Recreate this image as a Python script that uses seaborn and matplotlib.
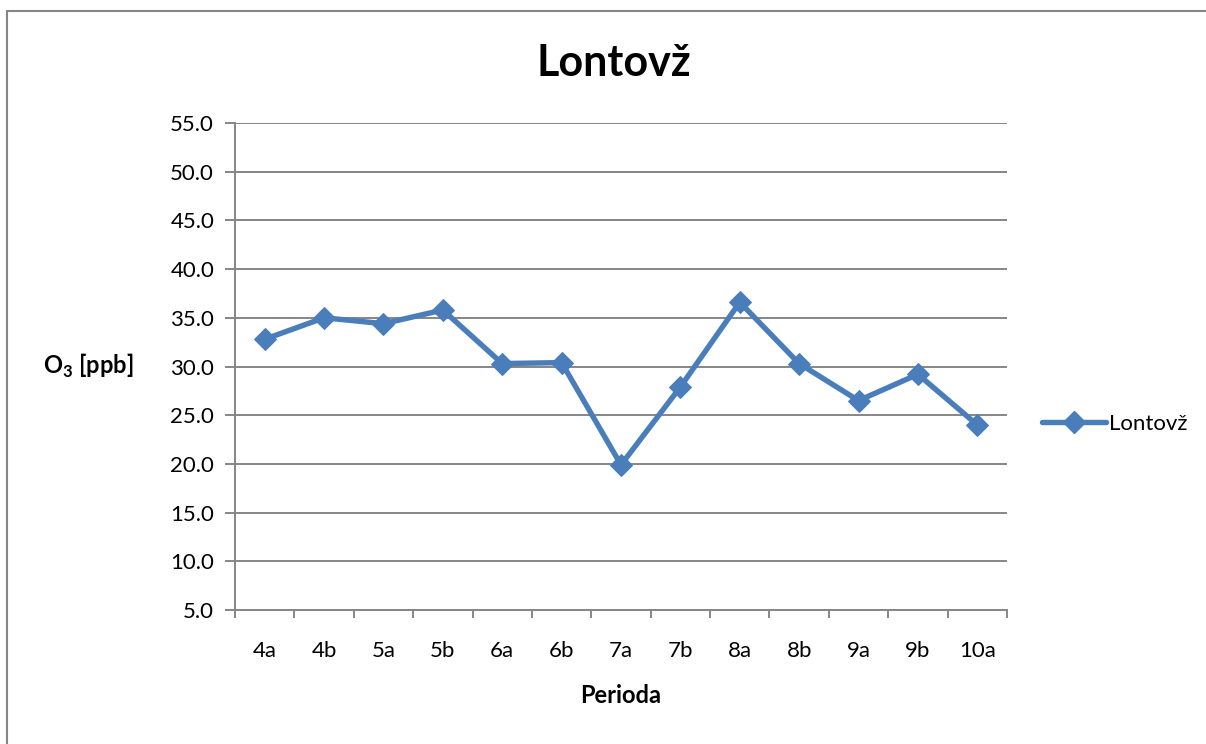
import matplotlib
matplotlib.use("Agg")
import matplotlib.pyplot as plt
import seaborn as sns
import pandas as pd
from matplotlib.lines import Line2D

# Ozone by sampling period at the Lontovž site
periods = ["4a", "4b", "5a", "5b", "6a", "6b", "7a", "7b", "8a", "8b", "9a", "9b", "10a"]
ozone_ppb = [32.8, 35.0, 34.4, 35.8, 30.3, 30.4, 19.9, 27.9, 36.6, 30.3, 26.5, 29.2, 24.0]
y_ticks = [5.0, 10.0, 15.0, 20.0, 25.0, 30.0, 35.0, 40.0, 45.0, 50.0, 55.0]
series_name = "Lontovž"

df = pd.DataFrame({"Perioda": periods, "O3": ozone_ppb})

sns.set_theme(style="white")
plt.rcParams["font.family"] = ["Lato", "DejaVu Sans"]
plt.rcParams["mathtext.fontset"] = "custom"
plt.rcParams["mathtext.rm"] = "Lato"
plt.rcParams["mathtext.bf"] = "Lato:bold"
plt.rcParams["text.color"] = "black"

line_color = "#4A7EBB"
grid_color = "#868686"
lw = 3.9
ms = 11

fig = plt.figure(figsize=(12.06, 7.44), dpi=100)
ax = fig.add_axes([235 / 1206, 1 - 610 / 744, (1007 - 235) / 1206, (610 - 123) / 744])

sns.lineplot(data=df, x="Perioda", y="O3", ax=ax, color=line_color, linewidth=lw,
             marker="D", markersize=ms, markeredgecolor=line_color, sort=False)

ax.set_xlim(-0.5, len(periods) - 0.5)
ax.set_ylim(y_ticks[0], y_ticks[-1])
ax.set_yticks(y_ticks)
ax.set_yticklabels([f"{v:.1f}" for v in y_ticks], fontsize=16)
ax.set_xticks(range(len(periods)))
ax.set_xticklabels(periods, fontsize=16)
ax.set_xticks([i - 0.5 for i in range(len(periods) + 1)], minor=True)

ax.grid(axis="y", color=grid_color, linewidth=1.4)
ax.set_axisbelow(True)
for side in ["top", "right"]:
    ax.spines[side].set_visible(False)
for side in ["left", "bottom"]:
    ax.spines[side].set_color(grid_color)
    ax.spines[side].set_linewidth(1.4)

ax.tick_params(axis="y", which="major", direction="out", length=7, width=1.4,
               color=grid_color, left=True, pad=8, labelcolor="black")
ax.tick_params(axis="x", which="major", length=0, pad=22, labelcolor="black")
ax.tick_params(axis="x", which="minor", direction="out", length=6, width=1.4,
               color=grid_color, bottom=True)

ax.set_xlabel("Perioda", fontsize=17, fontweight="bold", labelpad=17, color="black")
ax.set_ylabel(r"O$_\mathbf{3}$ [ppb]", fontsize=17, fontweight="bold", rotation=0,
              ha="center", va="center", color="black")
ax.yaxis.set_label_coords((88 - 235) / (1007 - 235), (610 - 366) / (610 - 123))

fig.text(614 / 1206, 1 - 63 / 744, series_name, fontsize=31, fontweight="bold",
         ha="center", va="center", color="black")

handle = Line2D([], [], color=line_color, linewidth=lw, marker="D", markersize=ms,
                markeredgecolor=line_color)
fig.legend([handle], [series_name], loc="center left",
           bbox_to_anchor=(1033 / 1206, 1 - 424 / 744), frameon=False, fontsize=16,
           handlelength=2.9, handletextpad=0.1, borderaxespad=0, labelcolor="black")

# Outer chart frame
fig.add_artist(plt.Rectangle((7 / 1206, -0.05), 1.2, 1 - 11 / 744 + 0.05,
                             transform=fig.transFigure, fill=False,
                             edgecolor=grid_color, linewidth=1.5))

fig.savefig("out.png", dpi=100)
